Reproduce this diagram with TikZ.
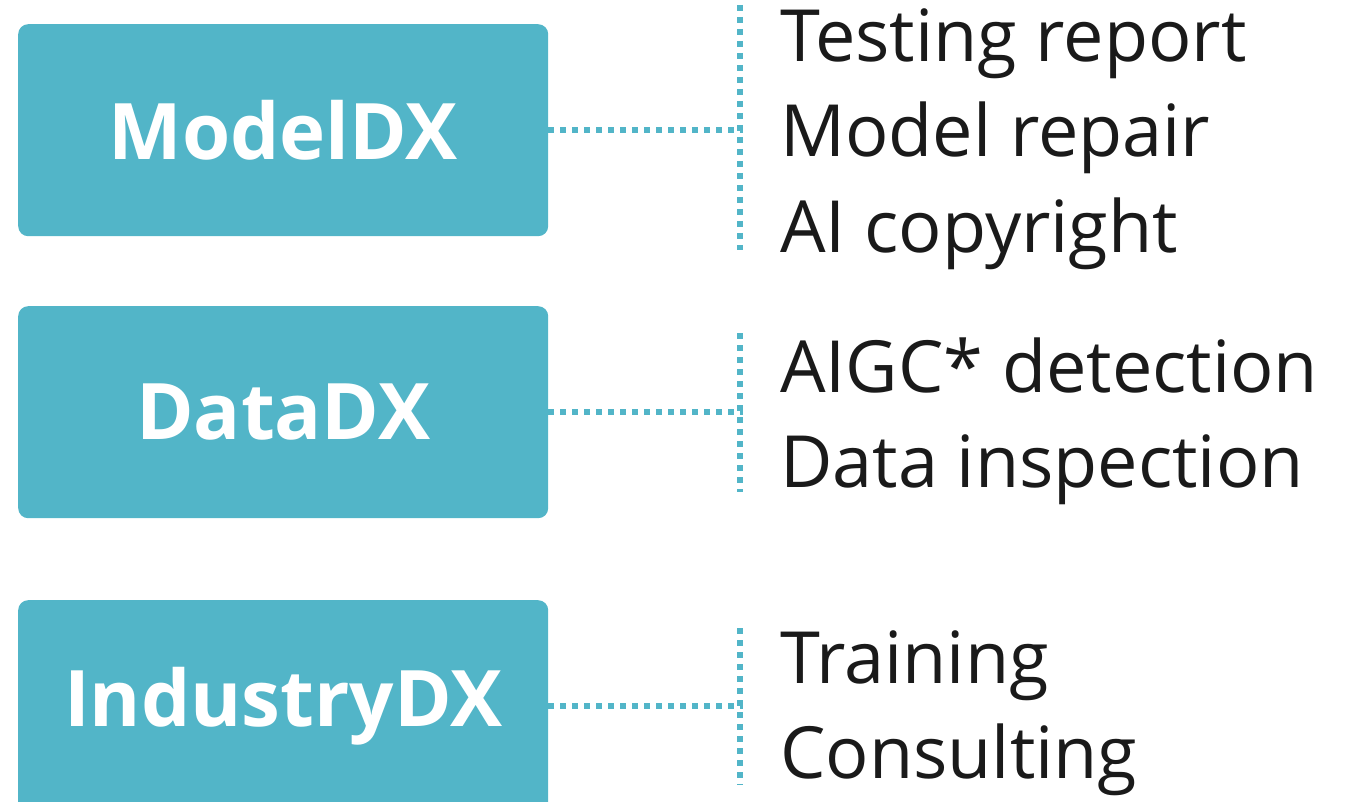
\documentclass[tikz,border=0pt]{standalone}
\usepackage{fontspec}
\setmainfont{Open Sans}
\definecolor{teal}{HTML}{52B5C8}
\definecolor{ink}{HTML}{1A1A1A}
\begin{document}
\begin{tikzpicture}[x=1pt,y=-1pt,
  boxnode/.style={fill=teal,rounded corners=10pt,minimum width=530pt,minimum height=212pt,inner sep=0pt,anchor=north west,
    text=white,font=\fontsize{78}{78}\selectfont\bfseries},
  item/.style={anchor=base west,inner sep=0pt,text=ink,font=\fontsize{72}{72}\selectfont},
  dots/.style={draw=teal,line width=6pt,dash pattern=on 6pt off 6pt}]
\useasboundingbox (0,0) rectangle (1346,802);
\node[boxnode] (m) at (18,24) {ModelDX};
\node[boxnode] (d) at (18,306) {DataDX};
\node[boxnode] (i) at (18,600) {IndustryDX};
% brackets
\coordinate (mt) at (740,5); \coordinate (mb) at (740,250);
\coordinate (dt) at (740,333); \coordinate (db) at (740,492);
\coordinate (it) at (740,628); \coordinate (ib) at (740,785);
\draw[dots] (mt) -- (mb);
\draw[dots] (dt) -- (db);
\draw[dots] (it) -- (ib);
\draw[dots] (m.east) -- ([xshift=3pt]m.east -| mt);
\draw[dots] (d.east) -- ([xshift=3pt]d.east -| dt);
\draw[dots] (i.east |- 0,706) -- (743,706);
% items
\node[item] (t1) at (780,62) {Testing report};
\node[item] (t2) at (780,157) {Model repair};
\node[item] (t3) at (780,253) {AI copyright};
\node[item] (t4) at (780,392) {AIGC* detection};
\node[item] (t5) at (780,487) {Data inspection};
\node[item] (t6) at (780,683) {Training};
\node[item] (t7) at (780,778) {Consulting};
\end{tikzpicture}
\end{document}
